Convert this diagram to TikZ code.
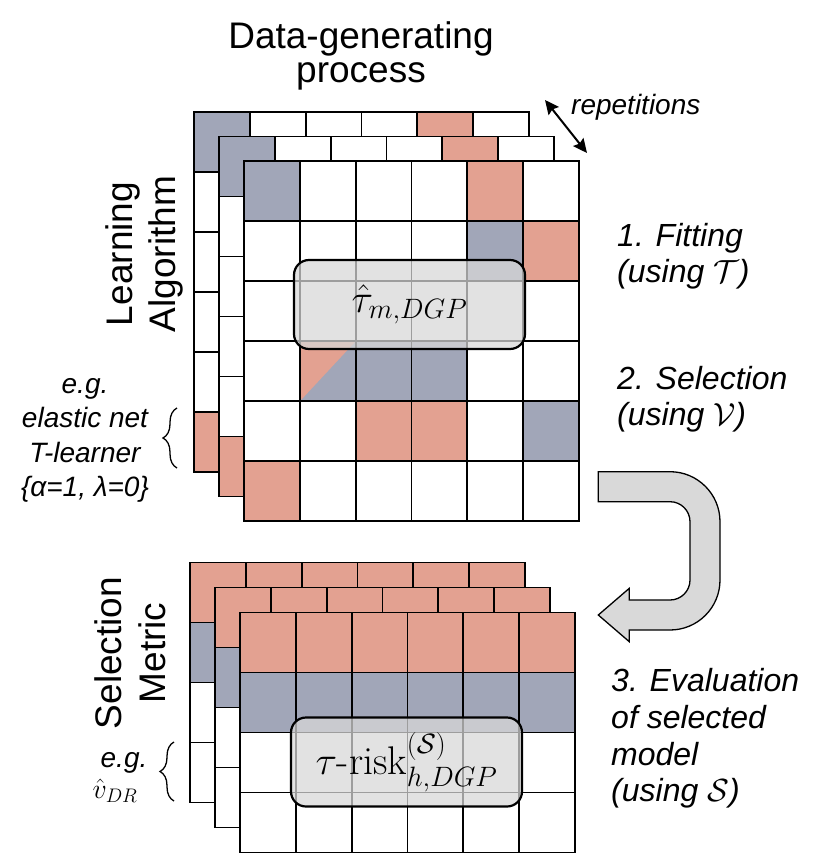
\RequirePackage{fix-cm}
\documentclass[tikz,border=0pt]{standalone}
\usepackage{amssymb}
\usepackage{amsmath}
\usepackage{fontspec}
\newfontfamily\labelfont{Liberation Sans}
\usepackage{tikz}
\usetikzlibrary{arrows.meta,decorations.pathreplacing}

\definecolor{cellred}{HTML}{E3A191}
\definecolor{cellblue}{HTML}{A1A6B8}
\definecolor{boxgray}{HTML}{D8D8D8}
\definecolor{turngray}{HTML}{D9D9D9}

\newcommand{\cellw}{55.8}
\newcommand{\cellh}{60}
% #1,#2 = top left corner, #3 = rows, #4 = coloured cells col/row/colour
\newcommand{\matgrid}[4]{%
  \fill[white] (#1,#2) rectangle ++({6*\cellw},{#3*\cellh});
  \foreach \c/\r/\col in {#4}
    \fill[\col] ({#1+(\c-1)*\cellw},{#2+(\r-1)*\cellh}) rectangle ++(\cellw,\cellh);
  \foreach \i in {1,...,5}
    \draw[gridline] ({#1+\i*\cellw},#2) -- ++(0,{#3*\cellh});
  \foreach \j in {1,...,#3}
    \draw[gridline] (#1,{#2+\j*\cellh}) -- ++({6*\cellw},0);
  \draw[gridline] (#1,#2) rectangle ++({6*\cellw},{#3*\cellh});
}

\tikzset{
  gridline/.style = {line width = 1.8pt, draw = black},
  estbox/.style = {draw = black, line width = 2.2pt, rounded corners = 15pt,
    fill = boxgray, fill opacity = 0.73, text opacity = 1,
    minimum width = 231pt, minimum height = 89pt, inner sep = 0pt,
    font = \fontsize{40}{44}\selectfont},
  headlabel/.style = {align = center, inner sep = 0pt},
  steplabel/.style = {font = \labelfont\itshape\fontsize{32}{36}\selectfont,
    align = left, anchor = north west, inner sep = 0pt},
  exlabel/.style = {font = \labelfont\itshape\fontsize{28}{34.5}\selectfont,
    align = center, inner sep = 0pt},
  bracket/.style = {decorate, decoration = {brace, amplitude = 14pt}, line width = 1.3pt},
  reparrow/.style = {{Stealth[length=14pt,width=13pt,inset=2pt]}-{Stealth[length=14pt,width=13pt,inset=2pt]}, line width = 2pt},
  uturn/.style = {fill = turngray, draw = black, line width = 1.3pt}
}

\begin{document}
\begin{tikzpicture}[x = 1pt, y = -1pt]
    \useasboundingbox (0,0) rectangle (832,856);

    % learning algorithm x DGP, one grid per repetition
    \matgrid{194}{111.7}{6}{1/1/cellblue, 5/1/cellred, 1/6/cellred}
    \matgrid{219}{136.5}{6}{1/1/cellblue, 5/1/cellred, 1/6/cellred}
    \matgrid{244}{161.3}{6}{1/1/cellblue, 5/1/cellred, 5/2/cellblue, 6/2/cellred,
        2/4/cellblue, 3/4/cellblue, 4/4/cellblue, 3/5/cellred, 4/5/cellred,
        6/5/cellblue, 1/6/cellred}
    \fill[cellred] (299.8,341.3) -- (355.6,341.3) -- (299.8,401.3) -- cycle;
    \draw[gridline] (299.8,341.3) rectangle (355.6,401.3);
    \node (tauhat)[estbox] at (409.5,304.5) {$\hat{\tau}_{m,DGP}$};

    % selection metric x DGP
    \matgrid{190}{562.5}{4}{1/1/cellred, 2/1/cellred, 3/1/cellred, 4/1/cellred,
        5/1/cellred, 6/1/cellred, 1/2/cellblue, 2/2/cellblue, 3/2/cellblue,
        4/2/cellblue, 5/2/cellblue, 6/2/cellblue}
    \matgrid{215}{587.5}{4}{1/1/cellred, 2/1/cellred, 3/1/cellred, 4/1/cellred,
        5/1/cellred, 6/1/cellred, 1/2/cellblue, 2/2/cellblue, 3/2/cellblue,
        4/2/cellblue, 5/2/cellblue, 6/2/cellblue}
    \matgrid{240}{612.5}{4}{1/1/cellred, 2/1/cellred, 3/1/cellred, 4/1/cellred,
        5/1/cellred, 6/1/cellred, 1/2/cellblue, 2/2/cellblue, 3/2/cellblue,
        4/2/cellblue, 5/2/cellblue, 6/2/cellblue}
    \node (taurisk)[estbox] at (406.5,762) {$\tau\text{-risk}^{(\mathcal{S})}_{h,DGP}$};

    % u-turn arrow
    \filldraw[uturn] (598.3,471.7) -- (670,471.7) arc[start angle=270, end angle=360, radius=50]
        -- (720,580) arc[start angle=0, end angle=90, radius=50]
        -- (629.3,630) -- (629.3,641.7) -- (598.3,615) -- (629.3,588.3) -- (629.3,600)
        -- (670,600) arc[start angle=90, end angle=0, radius=20]
        -- (690,521.7) arc[start angle=360, end angle=270, radius=20]
        -- (598.3,501.7) -- cycle;

    % labels
    \node (dgp)[headlabel, anchor = north, font = \labelfont\fontsize{37}{34}\selectfont]
        at (361,21) {Data-generating\\process};
    \node (alg)[headlabel, rotate = 90, font = \labelfont\fontsize{37}{43}\selectfont]
        at (144,254) {Learning\\Algorithm};
    \node (metric)[headlabel, rotate = 90, font = \labelfont\fontsize{37}{44}\selectfont]
        at (130.5,653) {Selection\\Metric};

    \node (reps)[anchor = base west, inner sep = 0pt,
        font = \labelfont\itshape\fontsize{28}{32}\selectfont] at (571,114) {repetitions};
    \coordinate (repA) at (545,100);
    \coordinate (repB) at (587,153);
    \draw[reparrow] (repA) -- (repB);

    \node (fit)[steplabel] at (617,223.3) {1. Fitting\\(using $\mathcal{T}$)};
    \node (sel)[steplabel] at (617,366.3) {2. Selection\\(using $\mathcal{V}$)};
    \node (eval)[steplabel, font = \labelfont\itshape\fontsize{32}{36.7}\selectfont]
        at (611,668.3) {3. Evaluation\\of selected\\model\\(using $\mathcal{S}$)};

    \node (algex)[exlabel, anchor = north] at (85,378.2)
        {e.g.\\elastic net\\T-learner\\\{α=1, λ=0\}};
    \coordinate (algBot) at (177,468);
    \coordinate (algTop) at (177,408);
    \draw[bracket] (algBot) -- (algTop);

    \node (metex)[anchor = base, inner sep = 0pt, font = \labelfont\itshape\fontsize{28}{30}\selectfont]
        at (124,767) {e.g.};
    \node (vdr)[anchor = base, inner sep = 0pt, font = \fontsize{28}{30}\selectfont]
        at (115,798) {$\hat{v}_{DR}$};
    \coordinate (metBot) at (174,801);
    \coordinate (metTop) at (174,742);
    \draw[bracket] (metBot) -- (metTop);
\end{tikzpicture}
\end{document}
